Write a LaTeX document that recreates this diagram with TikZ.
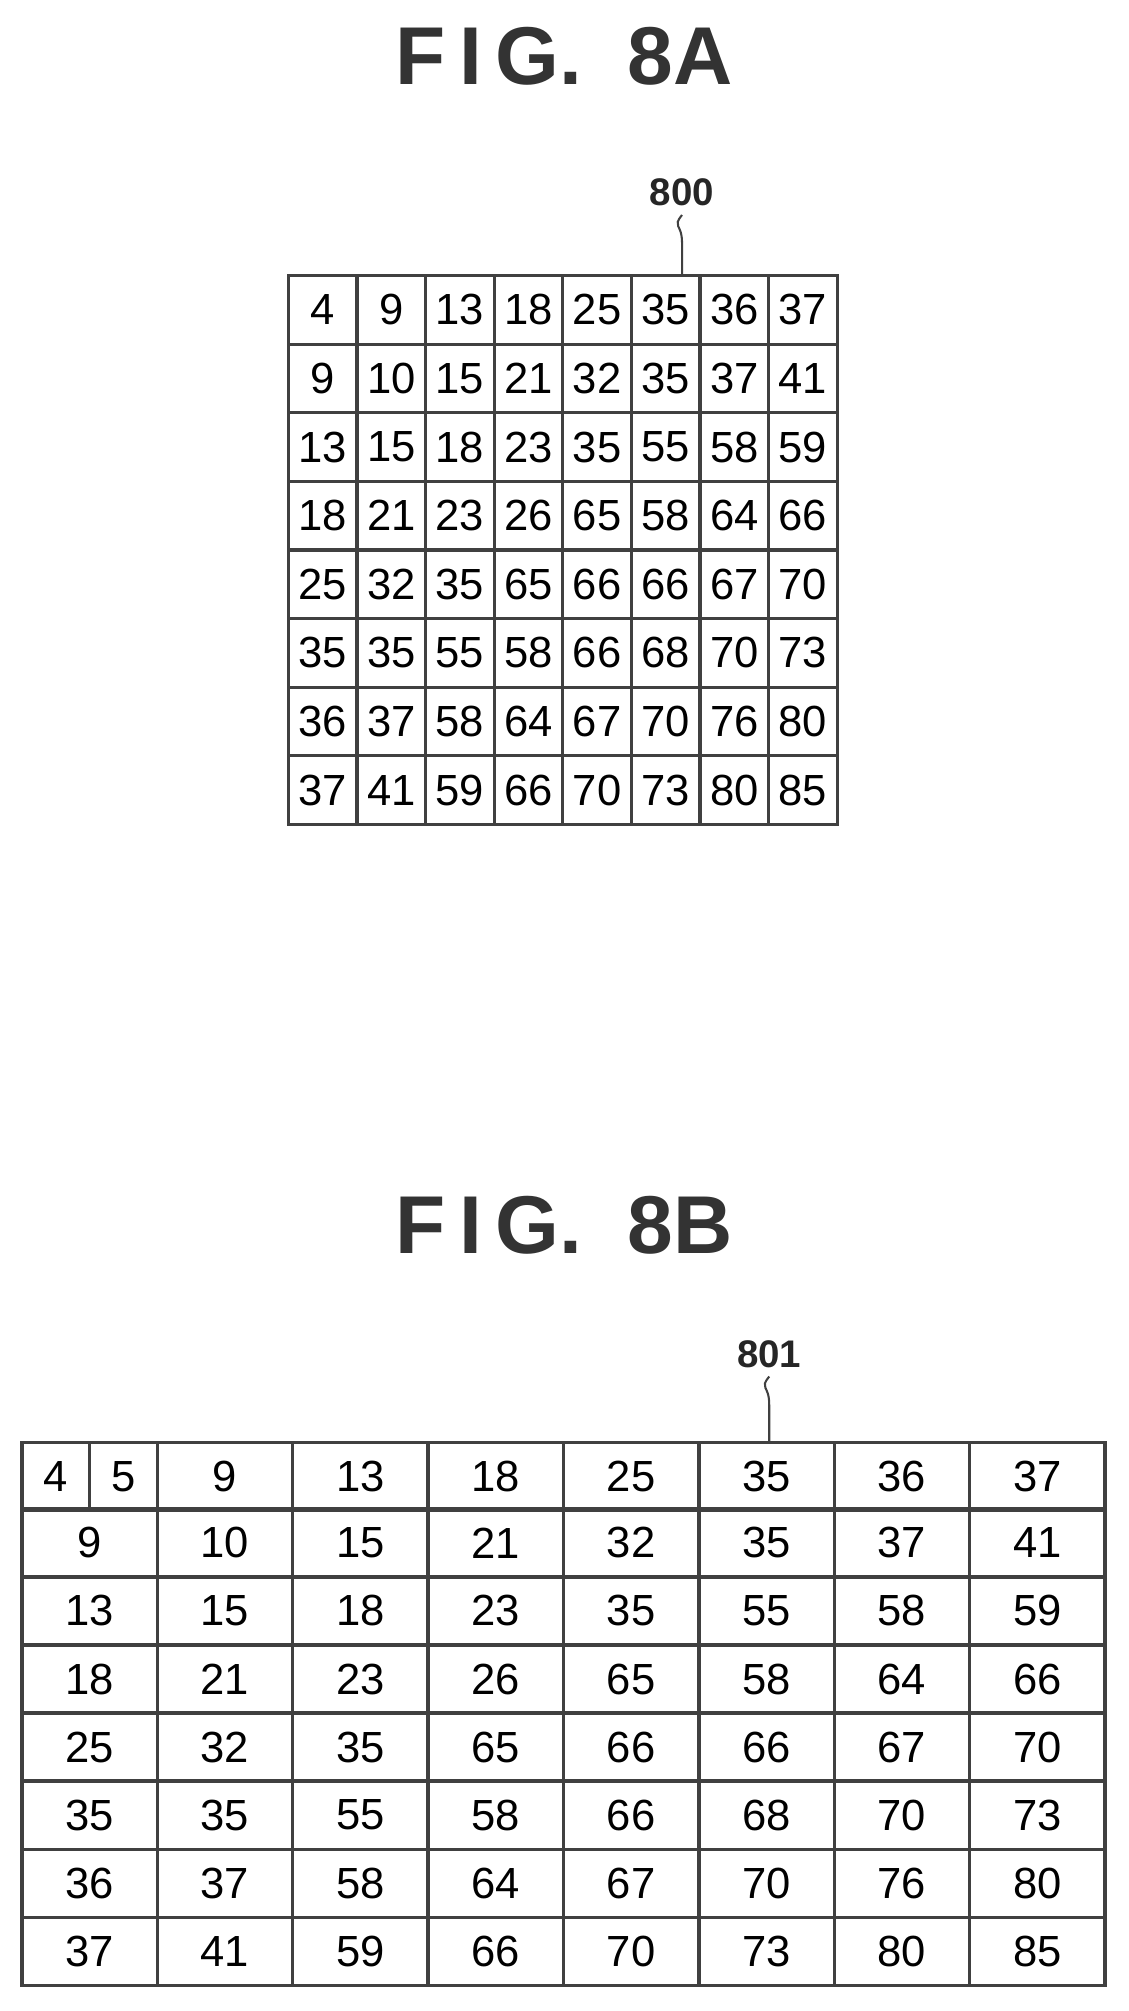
\documentclass[tikz,border=0pt]{standalone}
\usepackage{fontspec}
\setmainfont{Liberation Sans}
\usetikzlibrary{matrix, positioning, calc}
\tikzset{
  figtitle/.style={font=\fontsize{32}{36}\selectfont\bfseries, text=black!80},
  reflabel/.style={font=\fontsize{15}{18}\selectfont\bfseries, text=black!85},
  gridline/.style={draw=black!75, line width=1.3pt},
  cellnum/.style={font=\fontsize{17}{20}\selectfont},
}
\begin{document}
\begin{tikzpicture}
  \useasboundingbox (0pt,0pt) rectangle (440pt,-784.3pt);
  % FIG. 8A
  \node[figtitle] (titleA) at (220pt,-22pt) {F\,I\,G.\ \ 8A};
  \matrix (gridA) at (219.5pt,-214.5pt) [matrix of nodes,
    nodes={gridline, minimum width=26.75pt, minimum height=26.75pt, anchor=center,
      inner sep=0pt, cellnum},
    row sep=-1.3pt, column sep=-1.3pt,
    ampersand replacement=\&
    ] {
    4 \& 9 \& 13 \& 18 \& 25 \& 35 \& 36 \& 37 \\
    9 \& 10 \& 15 \& 21 \& 32 \& 35 \& 37 \& 41 \\
    13 \& 15 \& 18 \& 23 \& 35 \& 55 \& 58 \& 59 \\
    18 \& 21 \& 23 \& 26 \& 65 \& 58 \& 64 \& 66 \\
    25 \& 32 \& 35 \& 65 \& 66 \& 66 \& 67 \& 70 \\
    35 \& 35 \& 55 \& 58 \& 66 \& 68 \& 70 \& 73 \\
    36 \& 37 \& 58 \& 64 \& 67 \& 70 \& 76 \& 80 \\
    37 \& 41 \& 59 \& 66 \& 70 \& 73 \& 80 \& 85 \\
  };
  \node[reflabel] (labelA) at (266pt,-75pt) {800};
  \draw[black!75, line width=0.8pt] (labelA.south) .. controls ++(-4pt,-5pt) and ++(0pt,8pt) .. ++(0pt,-11pt)
    .. controls ++(0pt,-6pt) and ++(0pt,5pt) .. (labelA.south |- gridA-1-1.north);
  % FIG. 8B
  \node[figtitle] (titleB) at (220pt,-478pt) {F\,I\,G.\ \ 8B};
  \matrix (gridB) at (219.75pt,-668.75pt) [matrix of nodes,
    nodes={gridline, minimum width=52.8pt, minimum height=26.55pt, anchor=center,
      inner sep=0pt, cellnum},
    row sep=-1.3pt, column sep=-1.3pt,
    row 1/.style={nodes={draw=none}},
    ampersand replacement=\&
    ] {
    {} \& {} \& {} \& {} \& {} \& {} \& {} \& {} \\
    9 \& 10 \& 15 \& 21 \& 32 \& 35 \& 37 \& 41 \\
    13 \& 15 \& 18 \& 23 \& 35 \& 55 \& 58 \& 59 \\
    18 \& 21 \& 23 \& 26 \& 65 \& 58 \& 64 \& 66 \\
    25 \& 32 \& 35 \& 65 \& 66 \& 66 \& 67 \& 70 \\
    35 \& 35 \& 55 \& 58 \& 66 \& 68 \& 70 \& 73 \\
    36 \& 37 \& 58 \& 64 \& 67 \& 70 \& 76 \& 80 \\
    37 \& 41 \& 59 \& 66 \& 70 \& 73 \& 80 \& 85 \\
  };
  % first row: half cells at both ends
  \node[gridline, cellnum, minimum width=26.4pt, minimum height=26.55pt, inner sep=0pt,
    anchor=north west] (rowB-1) at (gridB-1-1.north west) {4};
  \node[gridline, cellnum, minimum width=26.4pt, minimum height=26.55pt, inner sep=0pt,
    right=-1.3pt of rowB-1] (rowB-2) {5};
  \foreach \val [count=\i from 3, evaluate=\i as \j using int(\i-1)] in {9,13,18,25,35,36,37}
    \node[gridline, cellnum, minimum width=52.8pt, minimum height=26.55pt, inner sep=0pt,
      right=-1.3pt of rowB-\j] (rowB-\i) {\val};
  \node[reflabel] (labelB) at (300pt,-528pt) {801};
  \draw[black!75, line width=0.8pt] (labelB.south) .. controls ++(-4pt,-5pt) and ++(0pt,8pt) .. ++(0pt,-11pt)
    .. controls ++(0pt,-6pt) and ++(0pt,5pt) .. (labelB.south |- rowB-1.north);
\end{tikzpicture}
\end{document}
